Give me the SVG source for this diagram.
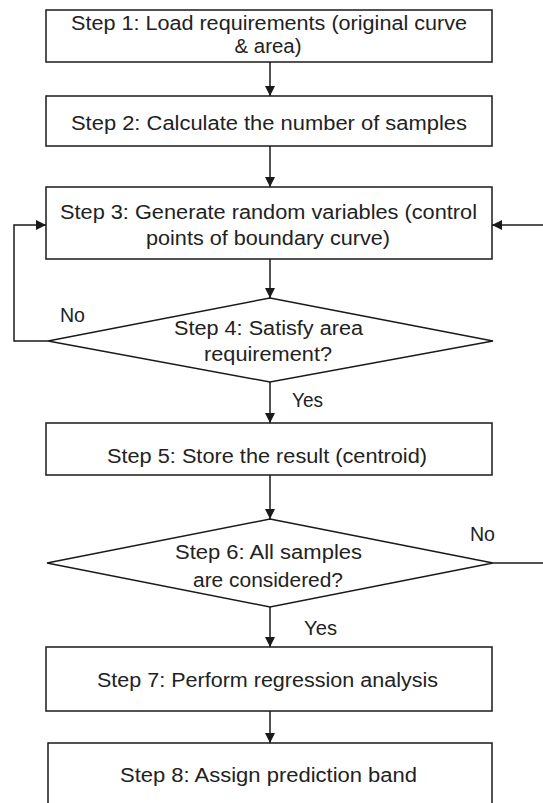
<svg xmlns="http://www.w3.org/2000/svg" width="543" height="803" viewBox="0 0 543 803">
<defs>
<style>
.box{fill:#fff;stroke:#1a1a1a;stroke-width:1.5}
.t{font-family:"Liberation Sans",Arial,sans-serif;font-size:20px;fill:#222;text-anchor:middle}
.l{font-family:"Liberation Sans",Arial,sans-serif;font-size:20px;fill:#222}
.c{fill:none;stroke:#1a1a1a;stroke-width:1.5}
</style>
<marker id="ah" markerWidth="10" markerHeight="10" refX="10" refY="5" orient="auto" markerUnits="userSpaceOnUse">
<path d="M0,0 L10,5 L0,10 Z" fill="#1a1a1a"/>
</marker>
</defs>
<rect width="543" height="803" fill="#fff"/>
<g id="connectors">
<line class="c" x1="270" y1="62" x2="270" y2="96" marker-end="url(#ah)"/>
<line class="c" x1="270" y1="146" x2="270" y2="187" marker-end="url(#ah)"/>
<line class="c" x1="270" y1="259" x2="270" y2="298" marker-end="url(#ah)"/>
<line class="c" x1="270" y1="382" x2="270" y2="423" marker-end="url(#ah)"/>
<line class="c" x1="270" y1="475" x2="270" y2="519" marker-end="url(#ah)"/>
<line class="c" x1="270" y1="607" x2="270" y2="647" marker-end="url(#ah)"/>
<line class="c" x1="270" y1="711" x2="270" y2="743" marker-end="url(#ah)"/>
<polyline class="c" points="48,341 14,341 14,225 46,225" marker-end="url(#ah)"/>
<line class="c" x1="493" y1="563" x2="545" y2="563"/>
<line class="c" x1="545" y1="225" x2="492" y2="225" marker-end="url(#ah)"/>
<text class="l" x="60" y="322" textLength="25" lengthAdjust="spacingAndGlyphs">No</text>
<text class="l" x="292" y="407" textLength="31" lengthAdjust="spacingAndGlyphs">Yes</text>
<text class="l" x="470" y="541" textLength="25" lengthAdjust="spacingAndGlyphs">No</text>
<text class="l" x="304" y="635" textLength="33" lengthAdjust="spacingAndGlyphs">Yes</text>
</g>
<g id="step1">
<rect class="box" x="46" y="10" width="446" height="52"/>
<text class="t" x="269" y="30" textLength="396" lengthAdjust="spacingAndGlyphs">Step 1: Load requirements (original curve</text>
<text class="t" x="268" y="53" textLength="67" lengthAdjust="spacingAndGlyphs">&amp; area)</text>
</g>
<g id="step2">
<rect class="box" x="46" y="96" width="446" height="50"/>
<text class="t" x="269" y="130" textLength="396" lengthAdjust="spacingAndGlyphs">Step 2: Calculate the number of samples</text>
</g>
<g id="step3">
<rect class="box" x="46" y="187" width="446" height="72"/>
<text class="t" x="268.5" y="219" textLength="417" lengthAdjust="spacingAndGlyphs">Step 3: Generate random variables (control</text>
<text class="t" x="268" y="245" textLength="244" lengthAdjust="spacingAndGlyphs">points of boundary curve)</text>
</g>
<g id="step4">
<polygon class="box" points="270,298 493,341 270,382 48,341"/>
<text class="t" x="268.5" y="335" textLength="189" lengthAdjust="spacingAndGlyphs">Step 4: Satisfy area</text>
<text class="t" x="268" y="361" textLength="128" lengthAdjust="spacingAndGlyphs">requirement?</text>
</g>
<g id="step5">
<rect class="box" x="46" y="423" width="446" height="52"/>
<text class="t" x="267" y="463" textLength="320" lengthAdjust="spacingAndGlyphs">Step 5: Store the result (centroid)</text>
</g>
<g id="step6">
<polygon class="box" points="270,519 493,563 270,607 47,563"/>
<text class="t" x="268.5" y="559" textLength="187" lengthAdjust="spacingAndGlyphs">Step 6: All samples</text>
<text class="t" x="268" y="587" textLength="150" lengthAdjust="spacingAndGlyphs">are considered?</text>
</g>
<g id="step7">
<rect class="box" x="46" y="647" width="446" height="64"/>
<text class="t" x="267.5" y="687" textLength="341" lengthAdjust="spacingAndGlyphs">Step 7: Perform regression analysis</text>
</g>
<g id="step8">
<rect class="box" x="48" y="743" width="444" height="70"/>
<text class="t" x="268.5" y="782" textLength="297" lengthAdjust="spacingAndGlyphs">Step 8: Assign prediction band</text>
</g>
</svg>
